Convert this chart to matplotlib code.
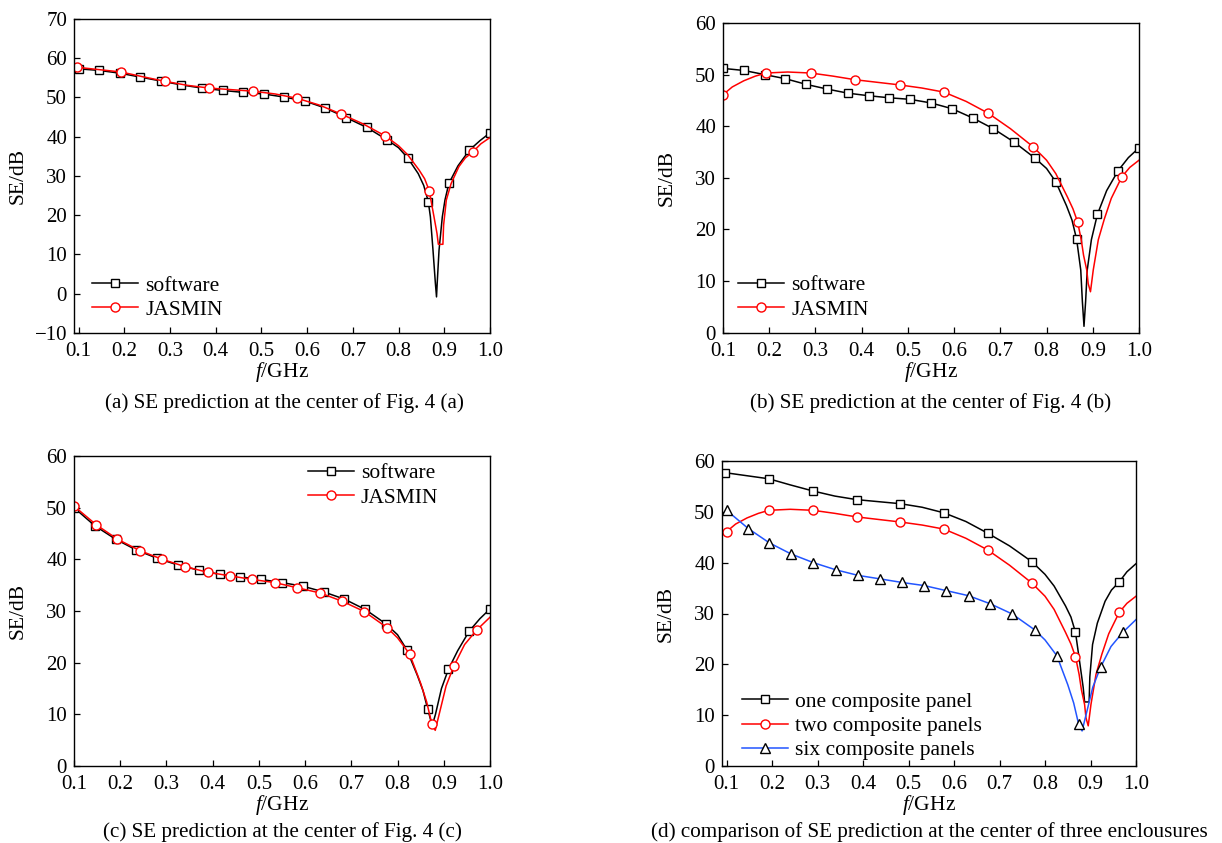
import numpy as np
import matplotlib
matplotlib.use("Agg")
import matplotlib.pyplot as plt

plt.rcParams['font.family'] = ['Liberation Serif', 'DejaVu Serif']
plt.rcParams['mathtext.fontset'] = 'custom'
plt.rcParams['mathtext.rm'] = 'Liberation Serif'
plt.rcParams['mathtext.it'] = 'Liberation Serif:italic'
plt.rcParams['font.size'] = 15

# ---------------- data (frequency in GHz, SE in dB) ----------------
# (a) software
sw_a_f = [0.100, 0.145, 0.190, 0.235, 0.280, 0.325, 0.370, 0.415, 0.460, 0.505, 0.550,
          0.595, 0.640, 0.685, 0.730, 0.775, 0.800, 0.820, 0.843, 0.855, 0.865, 0.8696,
          0.8753, 0.8805, 0.883, 0.8845, 0.8885, 0.8957, 0.9015, 0.910, 0.930, 0.955, 0.978, 1.000]
sw_a_se = [57.3, 56.9, 56.2, 55.2, 54.2, 53.2, 52.4, 51.8, 51.3, 50.9, 50.1,
           49.1, 47.3, 44.9, 42.4, 39.2, 37.2, 34.6, 30.6, 27.6, 23.5, 19.6,
           11.1, 2.7, -0.8, 2.7, 11.1, 19.6, 23.9, 28.1, 32.6, 36.6, 39.0, 41.0]
sw_a_marks = [0.100, 0.145, 0.190, 0.235, 0.280, 0.325, 0.370, 0.415, 0.460, 0.505, 0.550,
              0.595, 0.640, 0.685, 0.730, 0.775, 0.820, 0.865, 0.910, 0.955, 1.000]

# (a) JASMIN  (= one composite panel)
ja_a_f = [0.097, 0.145, 0.193, 0.240, 0.290, 0.338, 0.386, 0.434, 0.482, 0.530, 0.578,
          0.626, 0.674, 0.722, 0.771, 0.800, 0.820, 0.845, 0.857, 0.867, 0.8775, 0.884, 0.887,
          0.897, 0.8985, 0.9045, 0.915, 0.932, 0.946, 0.963, 0.980, 1.000]
ja_a_se = [57.7, 57.1, 56.5, 55.3, 54.1, 53.1, 52.4, 52.0, 51.6, 50.9, 49.8,
           48.1, 45.8, 43.3, 40.2, 37.7, 35.4, 31.5, 29.3, 26.3, 19.6, 15.4, 12.6,
           12.6, 17.5, 23.9, 28.1, 32.4, 34.6, 36.2, 38.2, 39.8]
ja_a_marks = [0.097, 0.193, 0.290, 0.386, 0.482, 0.578, 0.674, 0.771, 0.867, 0.963]

# (b) software
sw_b_f = [0.100, 0.145, 0.190, 0.235, 0.280, 0.325, 0.370, 0.415, 0.460, 0.505, 0.550,
          0.595, 0.640, 0.685, 0.730, 0.775, 0.800, 0.820, 0.843, 0.855, 0.865, 0.874, 0.8775,
          0.881, 0.8845, 0.888, 0.897, 0.910, 0.930, 0.955, 0.977, 1.000]
sw_b_se = [51.2, 50.8, 50.0, 49.2, 48.1, 47.2, 46.4, 45.9, 45.5, 45.2, 44.5,
           43.4, 41.6, 39.5, 36.9, 33.8, 31.8, 29.2, 24.6, 21.8, 18.1, 12.1, 6.0,
           1.2, 6.0, 12.1, 18.0, 22.9, 27.5, 31.4, 33.9, 35.8]
sw_b_marks = sw_a_marks

# (b) JASMIN  (= two composite panels)
ja_b_f = [0.100, 0.120, 0.145, 0.170, 0.193, 0.240, 0.290, 0.338, 0.386, 0.434, 0.482,
          0.530, 0.578, 0.626, 0.674, 0.722, 0.771, 0.800, 0.820, 0.845, 0.857, 0.867, 0.875,
          0.880, 0.887, 0.890, 0.895, 0.901, 0.912, 0.925, 0.940, 0.963, 0.980, 1.000]
ja_b_se = [46.1, 47.6, 48.8, 49.7, 50.3, 50.5, 50.3, 49.7, 49.0, 48.5, 48.0,
           47.4, 46.6, 44.8, 42.5, 39.5, 36.0, 33.4, 30.8, 26.3, 24.0, 21.5, 18.0,
           15.0, 12.1, 9.5, 7.9, 12.1, 18.0, 22.0, 26.0, 30.2, 32.0, 33.4]
ja_b_marks = [0.100, 0.193, 0.290, 0.386, 0.482, 0.578, 0.674, 0.771, 0.867, 0.963]

# (c) software
sw_c_f = [0.100, 0.145, 0.190, 0.235, 0.280, 0.325, 0.370, 0.415, 0.460, 0.505, 0.550,
          0.595, 0.640, 0.685, 0.730, 0.775, 0.800, 0.820, 0.843, 0.855, 0.865, 0.875, 0.882,
          0.895, 0.910, 0.930, 0.955, 0.978, 1.000]
sw_c_se = [50.0, 46.5, 43.9, 41.8, 40.2, 38.9, 37.9, 37.1, 36.6, 36.1, 35.5,
           34.8, 33.7, 32.3, 30.3, 27.5, 25.4, 22.5, 17.5, 14.6, 11.1, 7.8, 10.0,
           15.0, 18.7, 22.3, 26.1, 28.5, 30.4]
sw_c_marks = sw_a_marks

# (c) JASMIN  (= six composite panels)
ja_c_f = [0.100, 0.148, 0.194, 0.242, 0.291, 0.340, 0.389, 0.438, 0.486, 0.534, 0.583,
          0.632, 0.680, 0.728, 0.777, 0.800, 0.826, 0.850, 0.863, 0.874, 0.8815, 0.890, 0.905,
          0.922, 0.945, 0.971, 1.000]
ja_c_se = [50.3, 46.7, 43.9, 41.7, 40.0, 38.6, 37.5, 36.8, 36.1, 35.5, 34.5,
           33.5, 31.9, 29.9, 26.8, 24.8, 21.7, 16.0, 12.4, 8.2, 6.9, 10.0, 15.5,
           19.4, 23.5, 26.3, 28.8]
ja_c_marks = [0.100, 0.148, 0.194, 0.242, 0.291, 0.340, 0.389, 0.438, 0.486, 0.534, 0.583,
              0.632, 0.680, 0.728, 0.777, 0.826, 0.874, 0.922, 0.971]

xticks = [0.1, 0.2, 0.3, 0.4, 0.5, 0.6, 0.7, 0.8, 0.9, 1.0]
xticklabels = ['0.1', '0.2', '0.3', '0.4', '0.5', '0.6', '0.7', '0.8', '0.9', '1.0']
captions = ['(a) SE prediction at the center of Fig. 4 (a)',
            '(b) SE prediction at the center of Fig. 4 (b)',
            '(c) SE prediction at the center of Fig. 4 (c)',
            '(d) comparison of SE prediction at the center of three enclousures']
labels_2 = ['software', 'JASMIN']
labels_d = ['one composite panel', 'two composite panels', 'six composite panels']

BLACK = '#000000'
RED = '#ff0000'
BLUE = '#2255ff'

W, H = 1222, 843
fig = plt.figure(figsize=(W / 100, H / 100), dpi=100)


def px_axes(l, t, r, b):
    return fig.add_axes([l / W, 1 - b / H, (r - l) / W, (b - t) / H])


def series(ax, f, se, marks, color, marker, ms, label):
    f = np.asarray(f)
    idx = list(np.where(np.isin(np.round(f, 4), np.round(marks, 4)))[0])
    ax.plot(f, se, color=color, lw=1.1, marker=marker, markevery=idx, ms=ms,
            mfc='white', mec=BLACK if marker == '^' else color, mew=1.0, label=label)


def style(ax, xmin, ylim, yticks, caption_xy, caption):
    ax.set_xlim(xmin, 1.0)
    ax.set_ylim(*ylim)
    ax.set_xticks(xticks)
    ax.set_xticklabels(xticklabels)
    ax.set_yticks(yticks)
    ax.tick_params(direction='in', length=4, width=0.9, top=False, right=False, labelsize=15)
    ax.tick_params(axis='x', pad=6.5)
    ax.tick_params(axis='y', pad=5)
    for s in ax.spines.values():
        s.set_linewidth(1.0)
    ax.set_xlabel(r'$f$/GHz', fontsize=15.5, va='center')
    ax.set_ylabel('SE/dB', fontsize=15.5, va='center')
    bbox = ax.get_position()
    ax.xaxis.set_label_coords(0.5, -39 / (bbox.height * H))
    ax.yaxis.set_label_coords(-56 / (bbox.width * W), 0.5)
    fig.text(caption_xy[0] / W, 1 - caption_xy[1] / H, caption, ha='center', va='center', fontsize=15.2)


def legend(ax, x_px, y_px):
    ax.legend(loc='center left', bbox_to_anchor=(x_px / W, 1 - y_px / H),
              bbox_transform=fig.transFigure, frameon=False, fontsize=15.5,
              handlelength=2.15, handletextpad=0.33, labelspacing=0.2,
              borderpad=0, borderaxespad=0)


# (a)
ax = px_axes(74, 19, 490, 333)
series(ax, sw_a_f, sw_a_se, sw_a_marks, BLACK, 's', 5.8, labels_2[0])
series(ax, ja_a_f, ja_a_se, ja_a_marks, RED, 'o', 6.5, labels_2[1])
style(ax, 0.09, (-10, 70), list(range(-10, 71, 10)), (284, 403), captions[0])
legend(ax, 92, 297.8)

# (b)
ax = px_axes(723, 23, 1139, 332.5)
series(ax, sw_b_f, sw_b_se, sw_b_marks, BLACK, 's', 5.8, labels_2[0])
series(ax, ja_b_f, ja_b_se, ja_b_marks, RED, 'o', 6.5, labels_2[1])
style(ax, 0.1, (0, 60), list(range(0, 61, 10)), (931, 403), captions[1])
legend(ax, 738, 297.5)

# (c)
ax = px_axes(74, 456, 490, 766)
series(ax, sw_c_f, sw_c_se, sw_c_marks, BLACK, 's', 5.8, labels_2[0])
series(ax, ja_c_f, ja_c_se, ja_c_marks, RED, 'o', 6.5, labels_2[1])
style(ax, 0.1, (0, 60), list(range(0, 61, 10)), (282, 832), captions[2])
legend(ax, 307.6, 485.5)

# (d)
ax = px_axes(722, 461, 1136, 766)
series(ax, ja_a_f, ja_a_se, ja_a_marks, BLACK, 's', 5.8, labels_d[0])
series(ax, ja_b_f, ja_b_se, ja_b_marks, RED, 'o', 6.5, labels_d[1])
series(ax, ja_c_f, ja_c_se, ja_c_marks, BLUE, '^', 7.5, labels_d[2])
style(ax, 0.09, (0, 60), list(range(0, 61, 10)), (929, 832), captions[3])
legend(ax, 742, 726)

fig.savefig('out.png', dpi=100)
